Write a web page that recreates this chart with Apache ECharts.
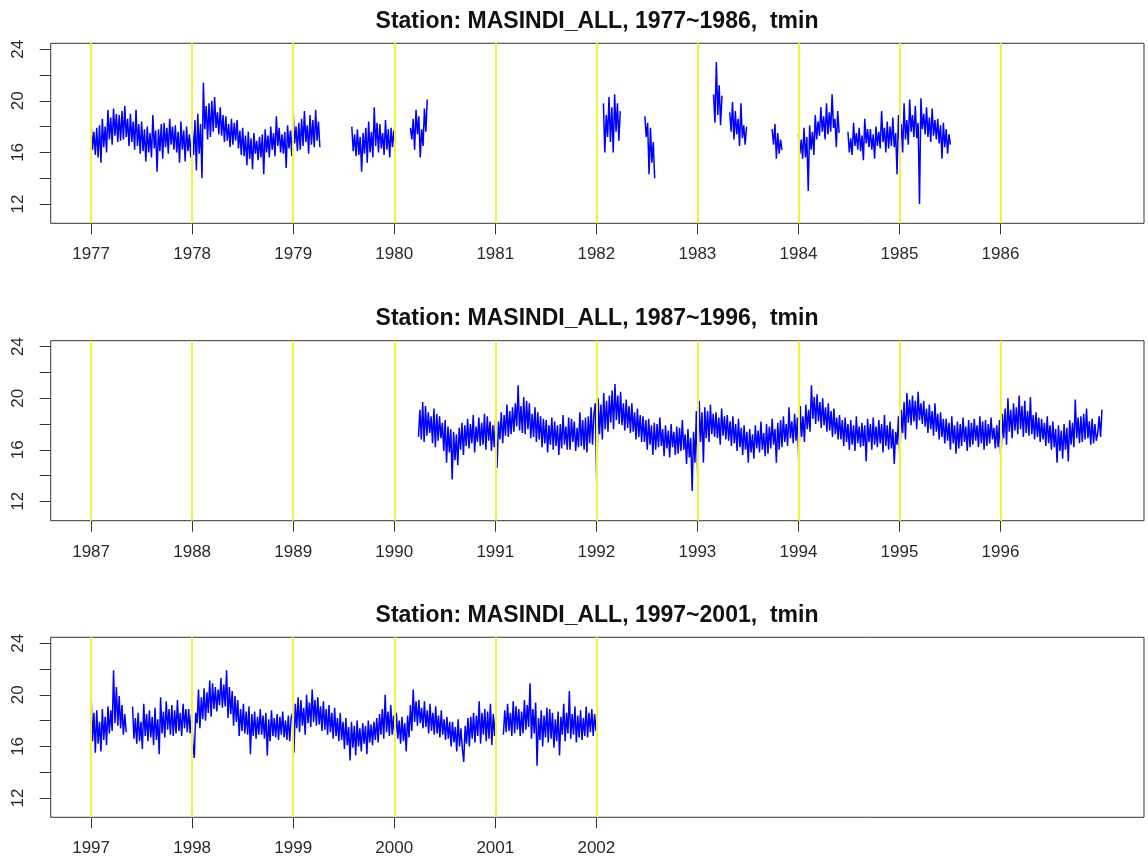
<!DOCTYPE html>
<html>
<head>
<meta charset="utf-8">
<script src="https://cdn.jsdelivr.net/npm/echarts@6/dist/echarts.min.js"></script>
<style>
  html, body { margin: 0; padding: 0; background: #ffffff; }
  #chart { width: 1148px; height: 866px; }
</style>
</head>
<body>
<div id="chart"></div>
<script>
// MASINDI minimum temperature (tmin, deg C), sampled about every five days.
// Each record segment: first sample date (decimal year), samples per year, values.

// ---- 1977 ~ 1986 ----
const tmin1977 = [
  18.3,16.2,17.6,15.8, 17.9,15.6,18.1,15.2, 18.6,16.4,18.0,16.0, 19.3,17.0,18.7,16.6,
  19.4,17.3,19.0,16.8, 18.9,16.9,19.2,17.0, 19.6,17.2,18.6,16.5, 19.0,16.8,18.4,16.2,
  19.3,16.5,18.2,15.9, 18.4,16.1,17.8,15.3, 18.0,16.0,17.5,15.6, 18.9,16.3,17.7,14.5,
  17.8,16.1,18.2,15.5, 18.3,16.4,17.9,15.9, 18.6,16.6,18.0,16.2, 18.1,16.0,17.6,15.2,
  18.4,16.2,17.7,15.3, 18.0,16.1,17.4,15.6, 17.9,15.8,18.5,14.6, 19.0,15.9,18.2,14.0,
  21.4,17.8,19.6,17.0, 19.8,17.2,20.0,17.6, 20.3,17.9,19.1,17.4, 19.5,17.3,18.9,16.8,
  18.8,16.9,18.2,16.4, 18.6,16.6,18.3,16.9, 18.5,16.3,17.7,15.8, 17.9,15.7,17.3,15.0,
  17.6,15.5,17.1,14.7, 17.5,15.9,16.9,15.4, 17.2,15.6,17.4,14.3, 17.8,16.0,17.3,15.6,
  18.0,16.2,17.5,15.7, 18.8,16.5,17.9,16.0, 17.4,15.9,17.6,14.8, 18.1,16.3,17.7,15.7,
  19.1,16.7,18.0,16.1, 18.3,16.2,18.6,16.5, 19.2,16.8,18.1,15.9, 18.9,16.6,18.5,16.4,
  19.3,16.9,18.4,16.4];
const tmin1979 = [
  18.0,16.1,17.4,15.7, 17.8,15.8,17.2,14.5, 17.5,15.9,17.9,15.2, 18.4,16.0,17.6,15.6,
  19.5,16.5,18.3,16.0, 18.2,16.3,17.5,15.8, 18.5,16.2,17.8,15.6, 17.9,16.4,17.7,16.1];
const tmin1980 = [17.9,17.0,18.6,16.2,19.3,17.4,18.8,15.6,17.8,16.5,19.4,17.6,20.1];
const tmin1982a = [19.8,16.0,18.9,17.2,20.3,16.8,19.5,16.0,20.5,17.6,19.8,16.9,19.2];
const tmin1982b = [18.8,17.2,18.3,14.3,17.9,15.2,16.8,14.0];
const tmin1983a = [20.5,18.3,23.0,18.9,21.2,18.1,20.4];
const tmin1983b = [19.1,17.6,19.9,17.0,19.2,17.4,18.6,16.5,19.8,17.1,18.1,16.6,18.0];
const tmin1983c = [17.8,16.6,18.2,15.5,17.5,15.9,17.0,16.2];
const tmin1984a = [
  17.4,15.9,17.0,15.5, 17.9,15.6,17.2,13.0, 18.1,16.2,17.6,15.8, 18.9,17.0,18.4,17.3,
  19.5,17.6,18.8,17.0, 19.8,17.4,19.1,17.6, 20.5,17.9,18.6,16.4, 19.2,17.5];
const tmin1984b = [
  17.6,16.0,17.1,15.8, 18.3,16.5,17.5,16.2, 17.9,16.1,17.3,15.4, 18.6,16.7,17.8,16.4,
  17.8,16.2,17.4,15.5, 18.0,16.5,17.6,16.3, 19.2,16.8,17.9,16.0, 18.4,16.3,18.0,16.5,
  18.7,16.4,17.5,14.3, 18.9,16.6,18.2,16.0, 19.8,17.0,18.5,16.6, 20.1,17.6,18.9,17.2,
  19.6,17.1,18.3,12.0, 20.2,17.8,19.0,17.4, 19.5,17.2,18.7,16.8, 19.4,17.3,18.5,17.0,
  18.6,16.7,18.1,15.5, 18.3,16.4,17.8,15.9, 17.4,16.6];

// ---- 1987 ~ 1996 ----
const tmin1990 = [
  17.0,19.1,16.8,19.7, 16.6,19.4,17.1,18.9, 17.3,18.6,16.5,19.2, 16.2,18.8,16.7,18.6,
  16.9,18.1,15.9,18.3, 15.0,17.8,15.8,17.6, 13.7,17.4,15.2,17.2, 14.8,17.7,16.0,18.1,
  15.6,17.9,16.3,18.4, 16.1,18.0,16.5,18.7, 15.8,17.8,16.6,18.5, 16.3,18.1,16.4,18.8,
  16.0,18.6,16.7,18.2, 15.9,17.9,16.2,18.4, 14.6,18.2,16.8,18.9, 16.5,18.7,17.1,19.5,
  17.0,19.0,17.2,19.3, 17.4,19.6,17.8,21.0, 17.5,19.4,17.3,20.1, 17.2,19.8,17.6,19.6,
  16.9,18.8,17.0,19.3, 16.6,18.9,16.8,18.6, 16.2,18.4,16.5,18.3, 15.8,17.9,16.4,18.5,
  16.0,18.2,16.3,17.9, 15.6,18.0,16.1,18.7, 16.4,17.8,16.0,18.5, 16.0,18.4,16.6,18.2,
  15.9,17.7,16.2,18.9, 16.3,18.3,16.0,18.5, 15.8,18.6,16.5,19.3, 16.4,18.8,19.6,13.4,
  20.0,17.2,19.5,16.8, 20.4,17.6,19.8,17.4, 20.2,18.1,20.6,17.6, 21.1,18.3,20.2,18.0,
  20.5,17.9,19.6,17.5, 19.9,17.7,19.4,17.3, 19.6,17.4,18.9,16.8, 19.2,17.0,18.7,16.6,
  18.6,16.6,18.3,16.0, 18.4,16.4,17.9,15.6, 18.1,16.0,18.0,16.2, 18.5,16.3,17.6,15.5,
  17.9,16.1,17.5,15.4, 18.0,16.2,17.4,15.6, 17.8,15.7,17.7,15.9, 18.3,16.0,17.2,14.9,
  17.6,15.4,16.9,12.8, 17.4,15.0,19.0,13.8, 19.8,16.6,18.9,15.0, 19.3,16.9,19.0,16.6,
  19.5,17.2,18.8,17.0, 18.9,16.9,18.5,16.4, 19.2,17.1,18.6,16.8, 18.7,16.7,18.2,16.3,
  18.6,16.5,18.0,15.9, 18.4,16.2,17.7,15.6, 17.9,16.0,17.4,15.0, 17.6,15.8,17.2,15.3,
  17.9,16.1,17.5,15.8, 18.2,16.0,17.3,15.5, 18.0,15.7,17.8,16.1, 18.4,16.4,17.6,15.0,
  18.1,16.0,18.3,16.2, 18.6,16.6,18.0,16.3, 19.3,16.9,18.2,16.5, 18.8,16.7,18.5,15.0,
  19.4,17.0,18.6,16.6, 19.5,17.6,19.1,17.4, 21.0,18.4,20.1,18.0, 20.3,18.2,19.7,17.7,
  20.0,17.9,19.3,17.4, 19.6,17.5,19.0,17.0, 19.2,17.2,18.5,16.8, 18.7,16.8,18.3,16.3,
  18.5,16.6,18.0,16.0, 18.3,16.4,17.9,15.9, 18.6,16.5,17.8,16.2, 18.1,16.3,17.9,15.1,
  18.4,16.6,18.0,16.0, 18.5,16.4,17.8,16.2, 18.3,16.5,18.0,15.8, 18.7,16.3,17.9,16.0,
  18.2,16.1,17.6,14.9, 17.4,16.4,18.6,15.3, 19.1,17.3,19.7,16.8, 20.4,18.1,19.9,17.9,
  20.2,18.2,19.8,17.6, 20.5,18.3,19.6,18.0, 19.8,17.8,19.2,17.3, 19.5,17.6,19.0,17.1,
  19.6,17.4,18.8,16.8, 18.9,17.0,18.4,16.5, 18.4,16.7,18.1,16.0, 18.6,16.5,17.9,15.7,
  18.2,16.1,18.0,16.3, 18.5,16.6,17.8,15.9, 18.3,16.2,18.1,16.4, 18.4,16.7,17.9,16.2,
  18.6,16.5,18.2,16.0, 18.3,16.3,18.0,16.5, 18.5,16.8,17.7,16.1, 17.9,16.2,18.3,15.0,
  18.8,16.9,19.2,16.4, 20.0,17.4,19.1,16.9, 19.6,17.5,19.3,17.2, 20.2,17.6,19.4,17.0,
  19.8,17.3,19.0,17.1, 20.1,17.2,18.7,16.8, 18.9,17.0,18.5,16.6, 18.4,16.8,18.1,16.3,
  18.6,16.5,17.9,16.0, 18.2,16.2,17.6,15.0, 17.9,15.9,17.5,15.3, 18.0,16.0,17.7,15.1,
  18.3,16.4,18.1,16.2, 19.9,16.9,18.5,16.5, 18.6,16.6,18.8,16.8, 19.2,16.9,18.2,16.4,
  18.4,16.5,18.0,16.7, 17.3,18.6,17.0,19.1];

// ---- 1997 ~ 2001 ----
const tmin1997a = [
  20.0,16.4,18.6,15.5, 18.8,16.2,17.9,15.6, 18.9,16.5,18.3,16.1, 19.1,17.0,18.8,17.2,
  21.9,17.8,20.6,17.6, 19.9,17.4,19.2,16.9, 18.5,17.1];
const tmin1997b = [
  19.1,16.6,18.2,16.2, 18.6,16.4,17.9,15.8, 19.3,16.8,18.5,16.4, 18.8,16.7,18.3,16.1,
  19.0,16.5,18.1,15.4, 19.8,17.0,18.7,16.7, 19.5,17.3,18.9,16.9, 19.2,16.8,18.8,17.0,
  19.6,17.2,18.6,16.8, 19.3,17.4,18.9,17.1, 18.9,17.0,18.5,16.2, 15.1,18.6,17.8,20.4,
  17.4,19.8,18.1,20.5, 18.0,20.2,18.6,21.1, 18.3,20.9,18.9,20.6, 18.7,20.4,19.2,21.3,
  19.0,20.8,19.1,21.9, 18.2,20.6,18.5,20.3, 17.6,19.9,17.9,19.6, 16.8,18.9,17.2,19.3,
  17.0,18.7,16.9,19.1, 15.4,18.5,16.8,18.7, 16.6,18.3,16.9,18.9, 16.9,18.4,16.6,18.6,
  15.3,18.1,16.4,18.8, 16.8,18.2,16.7,18.5, 16.5,18.3,16.9,18.7, 16.7,18.0,16.5,18.4,
  16.4,18.2,18.6,15.5, 19.3,17.4,19.8,17.1, 19.6,17.6,19.0,16.9, 20.0,17.8,19.4,17.5,
  20.4,17.9,19.6,17.6, 19.8,17.7,19.1,17.2, 19.5,17.3,18.9,16.9, 19.2,17.1,18.6,16.6,
  19.0,16.8,18.2,16.4, 18.6,16.5,17.9,15.8, 18.2,16.1,17.5,14.9, 17.9,15.9,17.6,15.3,
  18.0,16.0,17.4,15.6, 17.8,16.2,17.6,15.4, 18.0,16.3,17.7,16.1, 17.9,16.5,18.2,16.3,
  18.5,16.9,18.9,16.6, 20.0,17.1,18.7,16.8, 19.2,16.9,18.4,16.5, 18.6,16.6,18.0,16.2,
  18.3,16.4,17.8,15.6, 18.4,16.7,19.2,17.2, 20.4,17.9,19.5,17.6, 19.6,17.8,19.0,17.4,
  19.5,17.5,18.8,17.0, 19.3,17.2,18.6,16.9, 19.1,17.0,18.4,16.7, 18.8,16.9,18.1,16.5,
  18.3,16.6,17.9,16.0, 17.9,16.3,17.5,15.6, 18.1,16.0,17.4,15.8, 14.8,17.6,16.2,18.2,
  16.0,18.3,16.6,18.6, 16.3,18.4,16.8,19.5, 16.2,18.6,16.9,18.9, 16.4,18.7,16.6,19.3,
  16.1,18.5,16.8,18.7];
const tmin2001 = [
  16.9,18.8,17.1,19.3, 17.2,18.6,16.8,19.5, 17.0,19.1,17.3,18.9, 16.8,18.7,17.0,19.6,
  17.3,19.2,17.5,20.9, 16.6,18.9,17.0,19.4, 14.5,18.2,16.5,18.8, 16.0,18.4,16.7,19.0,
  16.3,18.9,16.6,18.6, 15.9,18.1,16.4,18.7, 15.3,18.3,16.9,19.3, 16.4,18.6,17.0,20.3,
  16.6,18.5,16.9,19.1, 16.3,18.4,16.7,18.8, 16.5,18.2,16.8,19.1, 16.7,18.6,17.1,18.9,
  16.8,18.5,17.2,18.2];

const segments = [
  { panel: 0, start: 1977.00, perYear: 72, values: tmin1977 },
  { panel: 0, start: 1979.58, perYear: 72, values: tmin1979 },
  { panel: 0, start: 1980.16, perYear: 72, values: tmin1980 },
  { panel: 0, start: 1982.07, perYear: 72, values: tmin1982a },
  { panel: 0, start: 1982.48, perYear: 72, values: tmin1982b },
  { panel: 0, start: 1983.16, perYear: 72, values: tmin1983a },
  { panel: 0, start: 1983.32, perYear: 72, values: tmin1983b },
  { panel: 0, start: 1983.74, perYear: 72, values: tmin1983c },
  { panel: 0, start: 1984.00, perYear: 72, values: tmin1984a },
  { panel: 0, start: 1984.49, perYear: 72, values: tmin1984b },
  { panel: 1, start: 1990.24, perYear: 72, values: tmin1990 },
  { panel: 2, start: 1997.00, perYear: 72, values: tmin1997a },
  { panel: 2, start: 1997.41, perYear: 72, values: tmin1997b },
  { panel: 2, start: 2001.08, perYear: 72, values: tmin2001 }
];

const panelStart = [1977, 1987, 1997];
const panelTitles = [
  'Station: MASINDI_ALL, 1977~1986,  tmin',
  'Station: MASINDI_ALL, 1987~1996,  tmin',
  'Station: MASINDI_ALL, 1997~2001,  tmin'
];
const yearTicks = [
  [1977, 1978, 1979, 1980, 1981, 1982, 1983, 1984, 1985, 1986],
  [1987, 1988, 1989, 1990, 1991, 1992, 1993, 1994, 1995, 1996],
  [1997, 1998, 1999, 2000, 2001, 2002]
];
const tempTicks = [12, 14, 16, 18, 20, 22, 24];
const tempLabels = [12, 16, 20, 24];

// ---- layout ----
const FONT = '"Liberation Sans", Arial, Helvetica, sans-serif';
const plotLeft = 50.7, plotRight = 1144, plotHeight = 180;
const plotTops = [43.3, 340.7, 637.3];
const axisColor = '#333333';

const grids = [], xAxes = [], yAxes = [], titles = [], series = [];

for (let p = 0; p < 3; p++) {
  grids.push({
    left: plotLeft, top: plotTops[p], width: plotRight - plotLeft, height: plotHeight,
    show: true, borderColor: axisColor, borderWidth: 1, backgroundColor: 'transparent'
  });
  xAxes.push({
    type: 'value', gridIndex: p,
    min: panelStart[p] - 0.4, max: panelStart[p] + 10.42,
    axisLine: { show: false },
    splitLine: { show: false },
    axisTick: { show: true, customValues: yearTicks[p], length: 11, lineStyle: { color: axisColor, width: 1 } },
    axisLabel: {
      customValues: yearTicks[p], formatter: v => String(v),
      margin: 23, fontSize: 17, color: '#2a2a2a', fontFamily: FONT
    }
  });
  yAxes.push({
    type: 'value', gridIndex: p,
    min: 10.5, max: 24.46,
    axisLine: { show: false },
    splitLine: { show: false },
    axisTick: { show: true, customValues: tempTicks, length: 11, lineStyle: { color: axisColor, width: 1 } },
    axisLabel: {
      customValues: tempLabels, formatter: v => String(v),
      rotate: 90, margin: 24, fontSize: 17, color: '#2a2a2a', fontFamily: FONT
    }
  });
  titles.push({
    text: panelTitles[p],
    left: 597, textAlign: 'center',
    top: plotTops[p] - 34, padding: 0,
    textStyle: { fontFamily: FONT, fontSize: 23, fontWeight: 'bold', color: '#111111', lineHeight: 24 }
  });
  // yellow year markers
  series.push({
    type: 'line', xAxisIndex: p, yAxisIndex: p, data: [], silent: true, z: 1,
    markLine: {
      silent: true, symbol: ['none', 'none'], animation: false,
      label: { show: false },
      lineStyle: { color: '#f2f23c', width: 2, type: 'solid' },
      emphasis: { disabled: true },
      data: yearTicks[p].map(y => ({ xAxis: y }))
    }
  });
}

segments.forEach(seg => {
  series.push({
    type: 'line', xAxisIndex: seg.panel, yAxisIndex: seg.panel, z: 3,
    showSymbol: false, symbol: 'none', silent: true, animation: false,
    lineStyle: { color: '#0000ff', width: 1.5 },
    data: seg.values.map((v, i) => [seg.start + i / seg.perYear, v])
  });
});

const chart = echarts.init(document.getElementById('chart'), null, { renderer: 'canvas' });
chart.setOption({
  animation: false,
  backgroundColor: '#ffffff',
  title: titles,
  grid: grids,
  xAxis: xAxes,
  yAxis: yAxes,
  series: series
});
</script>
</body>
</html>
